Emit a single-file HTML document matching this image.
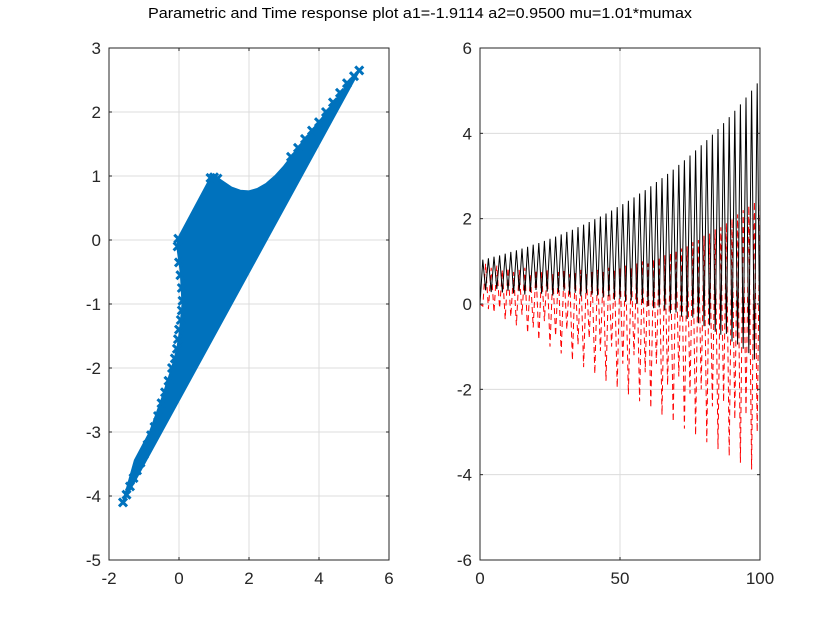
<!DOCTYPE html>
<html><head><meta charset="utf-8"><style>
body{margin:0;background:#fff;}
svg{display:block;font-family:"Liberation Sans",sans-serif;}
</style></head><body>
<svg id="fig" width="840" height="630" viewBox="0 0 840 630">
<rect width="840" height="630" fill="#fff"/>
<text x="148" y="18" font-size="15" textLength="544" lengthAdjust="spacingAndGlyphs" fill="#000">Parametric and Time response plot a1=-1.9114 a2=0.9500 mu=1.01*mumax</text>
<g id="left"></g>
<g id="right"></g>
</svg>
<script>
// ---- left (parametric) data ----
const regionX = [-1.6,-1.26,-0.83,-0.5,-0.2,-0.05,0.03,0.1,0.05,-0.05,0.0,0.9,1.1,1.2,1.5,1.75,2.0,2.25,2.5,2.75,3.0,3.5,4.0,4.5,5.15];
const regionY = [-4.1,-3.44,-3.0,-2.5,-2.0,-1.7,-1.41,-1.0,-0.5,-0.1,0.05,0.97,0.97,0.93,0.82,0.77,0.76,0.8,0.88,1.0,1.15,1.5,1.84,2.2,2.65];
const markX = [-1.6,-1.5,-1.4,-1.3,-1.2,-1.1,-1.0,-0.9,-0.8,-0.7,-0.6,-0.5,-0.4,-0.3,-0.2,-0.12,-0.06,-0.03,0.0,0.05,0.08,0.1,0.08,0.04,0.0,-0.04,-0.02,0.9,1.0,1.1,3.2,3.4,3.6,3.8,4.0,4.2,4.4,4.6,4.8,5.0,5.15];
const markY = [-4.1,-3.98,-3.85,-3.72,-3.6,-3.48,-3.35,-3.2,-3.05,-2.92,-2.75,-2.55,-2.38,-2.2,-2.0,-1.85,-1.7,-1.55,-1.4,-1.25,-1.1,-0.95,-0.75,-0.55,-0.35,-0.1,0.02,0.97,0.98,0.96,1.3,1.44,1.58,1.71,1.84,2.0,2.15,2.3,2.45,2.56,2.65];
const leftXTicks = [-2,0,2,4,6];
const leftYTicks = [-5,-4,-3,-2,-1,0,1,2,3];
// ---- right (time response) data ----
const blackY = [0,1.04,0.32,1.07,0.28,1.11,0.35,1.14,0.27,1.18,0.31,1.22,0.25,1.26,0.3,1.30,0.22,1.34,0.28,1.39,0.33,1.43,0.24,1.48,0.29,1.53,0.2,1.58,0.27,1.63,0.31,1.69,0.22,1.74,0.26,1.80,0.18,1.86,0.25,1.92,0.22,1.99,0.2,2.05,0.15,2.12,0.18,2.19,0.1,2.27,0.12,2.34,0.05,2.42,0.08,2.50,0.0,2.59,0.02,2.67,-0.05,2.76,-0.1,2.86,-0.08,2.95,-0.15,3.05,-0.22,3.15,-0.2,3.26,-0.3,3.37,-0.35,3.48,-0.32,3.60,-0.45,3.72,-0.52,3.84,-0.5,3.97,-0.65,4.10,-0.72,4.24,-0.7,4.38,-0.88,4.53,-0.95,4.68,-1.05,4.84,-1.15,5.00,-1.3,5.17,-1.45];
const redY = [0,-0.05,0.95,-0.12,0.85,-0.2,0.9,-0.1,0.8,-0.36,0.85,-0.3,0.75,-0.5,0.8,-0.25,0.85,-0.68,0.7,-0.55,0.8,-0.84,0.75,-0.4,0.8,-1.0,0.7,-0.75,0.75,-1.16,0.8,-0.6,0.7,-1.32,0.75,-0.95,0.8,-1.48,0.7,-0.8,0.75,-1.64,0.8,-1.1,0.75,-1.8,0.85,-1.0,0.8,-1.96,0.85,-1.4,0.9,-2.12,0.85,-1.2,0.95,-2.28,1.0,-1.6,0.95,-2.44,1.05,-1.4,1.1,-2.6,1.15,-1.9,1.2,-2.76,1.25,-1.7,1.3,-2.92,1.35,-2.1,1.45,-3.08,1.5,-2.0,1.6,-3.24,1.65,-2.4,1.75,-3.4,1.8,-2.3,1.9,-3.56,2.0,-2.7,2.1,-3.72,2.2,-2.6,2.3,-3.88,2.4,-3.0,2.5];
const rightXTicks = [0,50,100];
const rightYTicks = [-6,-4,-2,0,2,4,6];

const NS='http://www.w3.org/2000/svg';
function mk(parent,tag,attrs){const e=document.createElementNS(NS,tag);for(const k in attrs)e.setAttribute(k,attrs[k]);parent.appendChild(e);return e;}

function axes(g,box,xd,yd,xt,yt,prefix){
  const sx=v=>box.x+(v-xd[0])/(xd[1]-xd[0])*box.w;
  const sy=v=>box.y+box.h-(v-yd[0])/(yd[1]-yd[0])*box.h;
  mk(g,'rect',{x:box.x,y:box.y,width:box.w,height:box.h,fill:'#fff'});
  xt.forEach(t=>{const l=mk(g,'line',{x1:sx(t),x2:sx(t),y1:box.y,y2:box.y+box.h,stroke:'#dcdcdc','stroke-width':1});
    
    });
  yt.forEach(t=>{const l=mk(g,'line',{x1:box.x,x2:box.x+box.w,y1:sy(t),y2:sy(t),stroke:'#dcdcdc','stroke-width':1});
    
    });
  return {sx,sy};
}
function frame(g,box,xt,yt,s,prefix){
  const f=mk(g,'rect',{x:box.x,y:box.y,width:box.w,height:box.h,fill:'none',stroke:'#262626','stroke-width':1});
  
  
  xt.forEach(t=>{const x=s.sx(t);
    mk(g,'line',{x1:x,x2:x,y1:box.y+box.h,y2:box.y+box.h-3,stroke:'#262626'});
    mk(g,'line',{x1:x,x2:x,y1:box.y,y2:box.y+3,stroke:'#262626'});
    const tx=mk(g,'text',{x:x,y:box.y+box.h+24,'text-anchor':'middle','font-size':17,fill:'#262626'});tx.textContent=t;
    
    });
  yt.forEach(t=>{const y=s.sy(t);
    mk(g,'line',{x1:box.x,x2:box.x+3,y1:y,y2:y,stroke:'#262626'});
    mk(g,'line',{x1:box.x+box.w,x2:box.x+box.w-3,y1:y,y2:y,stroke:'#262626'});
    const tx=mk(g,'text',{x:box.x-8,y:y+6,'text-anchor':'end','font-size':17,fill:'#262626'});tx.textContent=t;
    
    });
}

// left
const L=document.getElementById('left');
const lb={x:109,y:48,w:280,h:512};
const ls=axes(L,lb,[-2,6],[-5,3],leftXTicks,leftYTicks,'left');
const poly=mk(L,'polygon',{points:regionX.map((x,i)=>ls.sx(x)+','+ls.sy(regionY[i])).join(' '),fill:'#0072BD',stroke:'#0072BD','stroke-width':2,'stroke-linejoin':'round'});


markX.forEach((x,i)=>{const cx=ls.sx(x),cy=ls.sy(markY[i]),r=4;
  const p=mk(L,'path',{d:`M${cx-r},${cy-r}L${cx+r},${cy+r}M${cx-r},${cy+r}L${cx+r},${cy-r}`,stroke:'#0072BD','stroke-width':3});
  
  });
frame(L,lb,leftXTicks,leftYTicks,ls,'left');

// right
const R=document.getElementById('right');
const rb={x:480,y:48,w:280,h:512};
const rs=axes(R,rb,[0,100],[-6,6],rightXTicks,rightYTicks,'right');
const rl=mk(R,'polyline',{points:redY.map((v,i)=>rs.sx(i)+','+rs.sy(v)).join(' '),fill:'none',stroke:'#ff0000','stroke-width':1,'stroke-dasharray':'6,4'});


const bl=mk(R,'polyline',{points:blackY.map((v,i)=>rs.sx(i)+','+rs.sy(v)).join(' '),fill:'none',stroke:'#000','stroke-width':1});


frame(R,rb,rightXTicks,rightYTicks,rs,'right');
</script>
</body></html>
